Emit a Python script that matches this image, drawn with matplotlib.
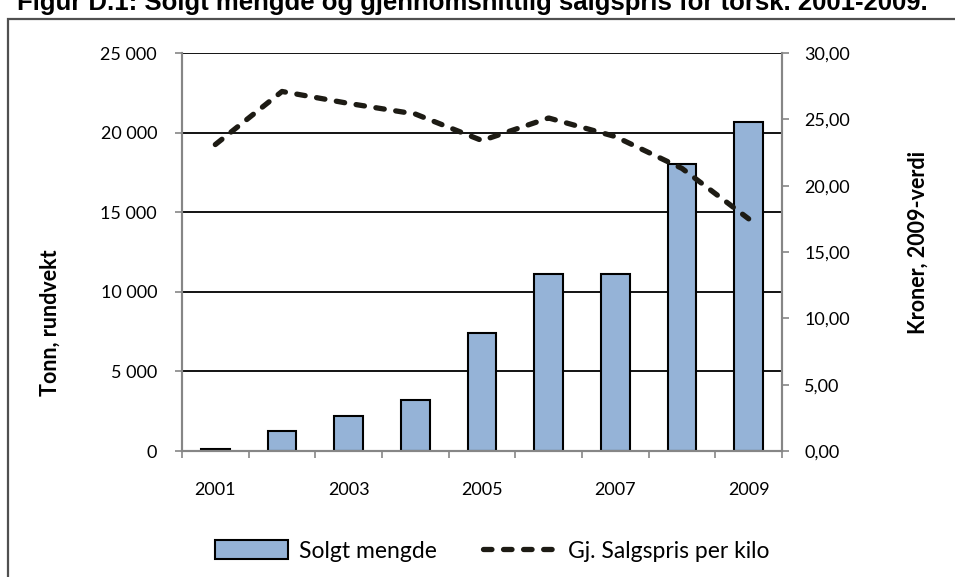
import matplotlib
matplotlib.use("Agg")
import matplotlib.pyplot as plt
from matplotlib.patches import Rectangle
from matplotlib.ticker import FuncFormatter

# data
years = [2001, 2002, 2003, 2004, 2005, 2006, 2007, 2008, 2009]
solgt_mengde = [150, 1250, 2200, 3180, 7400, 11100, 11100, 18030, 20650]
salgspris = [23.1, 27.1, 26.2, 25.4, 23.4, 25.1, 23.7, 21.3, 17.5]
year_labels = ["2001", "2003", "2005", "2007", "2009"]

title = "Figur D.1: Solgt mengde og gjennomsnittlig salgspris for torsk. 2001-2009."

plt.rcParams["font.family"] = ["Lato", "DejaVu Sans"]

W, H = 955, 577
fig = plt.figure(figsize=(W / 100, H / 100), dpi=100)

gray = "#868686"
bar_color = "#95B3D7"
line_color = "#1d1b14"

# outer frame and title (cut at the top edge, as in the source)
fig.patches.append(Rectangle((8 / W, -0.1), 1.2, 1 - 19 / H + 0.1, transform=fig.transFigure,
                             fill=False, edgecolor="#505050", linewidth=1.6))
fig.text(17 / W, 1 - 10 / H, title, va="baseline", ha="left", fontsize=18.5,
         fontweight="bold", family="Liberation Sans")

ax = fig.add_axes([182 / W, 1 - 451 / H, (782 - 182) / W, (451 - 53) / H])
x = list(range(len(years)))

ax.set_axisbelow(True)
ax.bar(x, solgt_mengde, width=0.43, color=bar_color, edgecolor="black", linewidth=1.5,
       label="Solgt mengde", zorder=2)
ax.set_xlim(-0.5, len(years) - 0.5)
ax.set_ylim(0, 25000)
ax.set_yticks(range(0, 25001, 5000))
ax.yaxis.set_major_formatter(FuncFormatter(lambda v, p: f"{int(v):,}".replace(",", " ")))
ax.yaxis.grid(True, color="black", linewidth=1.3)

# tick marks between categories, year labels on odd years
ax.set_xticks([i - 0.5 for i in range(len(years) + 1)])
ax.set_xticklabels([])
ax.set_xticks([x[years.index(int(y))] for y in year_labels], minor=True)
ax.set_xticklabels(year_labels, minor=True)
ax.tick_params(axis="x", which="major", length=5, width=1.2, color=gray)
ax.tick_params(axis="x", which="minor", length=0, pad=22, labelsize=13)
ax.tick_params(axis="y", length=5, width=1.2, color=gray, labelsize=13, pad=13)

for s in ["left", "bottom", "right"]:
    ax.spines[s].set_color(gray)
    ax.spines[s].set_linewidth(1.5)
ax.spines["top"].set_visible(False)

ax2 = ax.twinx()
ln, = ax2.plot(x, salgspris, color=line_color, linewidth=3.8, dash_capstyle="round",
               label="Gj. Salgspris per kilo", zorder=3)
ln.set_dashes([1.6, 2.2])
ax2.set_ylim(0, 30)
ax2.set_yticks(range(0, 31, 5))
ax2.yaxis.set_major_formatter(FuncFormatter(lambda v, p: f"{v:.2f}".replace(".", ",")))
ax2.tick_params(axis="y", length=5, width=1.2, color=gray, labelsize=13, pad=11)
for s in ["left", "bottom", "right"]:
    ax2.spines[s].set_color(gray)
    ax2.spines[s].set_linewidth(1.5)
ax2.spines["top"].set_visible(False)

fig.text(50 / W, 1 - 323 / H, "Tonn, rundvekt", rotation=90, ha="center", va="center",
         fontsize=15.5, fontweight="bold")
fig.text(918 / W, 1 - 243 / H, "Kroner, 2009-verdi", rotation=90, ha="center", va="center",
         fontsize=15.5, fontweight="bold")

h1, l1 = ax.get_legend_handles_labels()
h2, l2 = ax2.get_legend_handles_labels()
fig.legend(h1 + h2, l1 + l2, loc="center", bbox_to_anchor=(492 / W, 1 - 551 / H), ncol=2,
           frameon=False, fontsize=16.5, handlelength=3.2, handleheight=0.85,
           handletextpad=0.5, columnspacing=2.0, borderpad=0)

fig.savefig("out.png", dpi=100)
